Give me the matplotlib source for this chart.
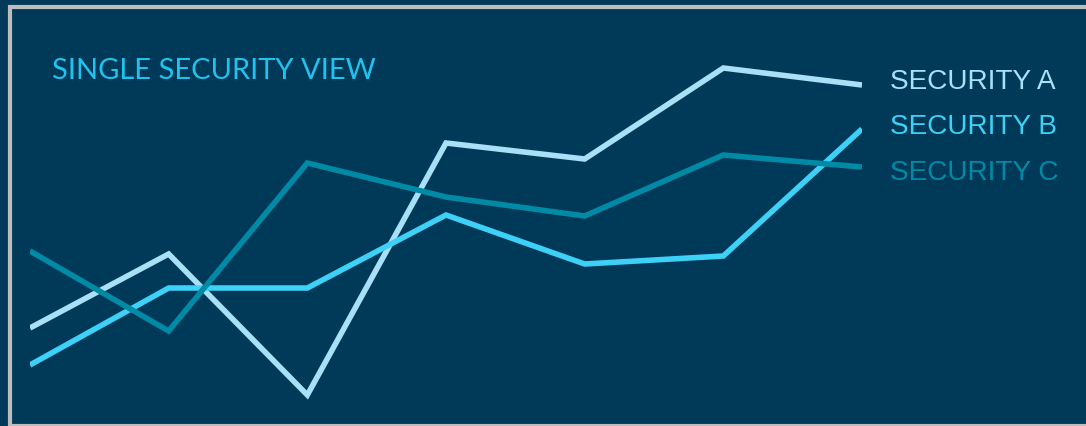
import matplotlib
matplotlib.use("Agg")
import matplotlib.pyplot as plt
from matplotlib.patches import Rectangle

W, H = 1086, 427
BG = "#003A58"

periods = [0, 1, 2, 3, 4, 5, 6]
series_names = ["SECURITY A", "SECURITY B", "SECURITY C"]
security_a = [100, 174, 33, 285, 269, 360, 343]
security_b = [63, 140, 140, 213, 164, 172, 299]
security_c = [177, 97, 265, 231, 212, 273, 261]
colors = ["#A9DFF7", "#3DD1F7", "#008AA6"]
title = "SINGLE SECURITY VIEW"

fig = plt.figure(figsize=(W / 100, H / 100), dpi=100, facecolor=BG)

# frame border
fig.patches.append(Rectangle((10 / W, 0.5 / H), 1.2, (419.5 - 0.5) / H,
                             transform=fig.transFigure, fill=False,
                             edgecolor="#BDBDBD", linewidth=3.0, zorder=0))

ax = fig.add_axes([30 / W, 0, (862 - 30) / W, 1])
ax.set_facecolor("none")
ax.patch.set_visible(False)
for vals, c in zip([security_a, security_b, security_c], colors):
    ax.plot(periods, vals, color=c, linewidth=4.0, solid_capstyle="butt",
            solid_joinstyle="miter")
ax.set_xlim(0, 6)
ax.set_ylim(2, H + 2)
ax.axis("off")

fig.text(52 / W, 1 - 71 / H, title, color="#1FC3EE", fontsize=21,
         family="Lato", va="center", ha="left")

ys = [82, 127, 173]
for name, c, y in zip(series_names, colors, ys):
    fig.text(890 / W, 1 - y / H, name, color=c, fontsize=20.2,
             family="Liberation Sans", va="center", ha="left")

fig.savefig("out.png", dpi=100, facecolor=BG)
